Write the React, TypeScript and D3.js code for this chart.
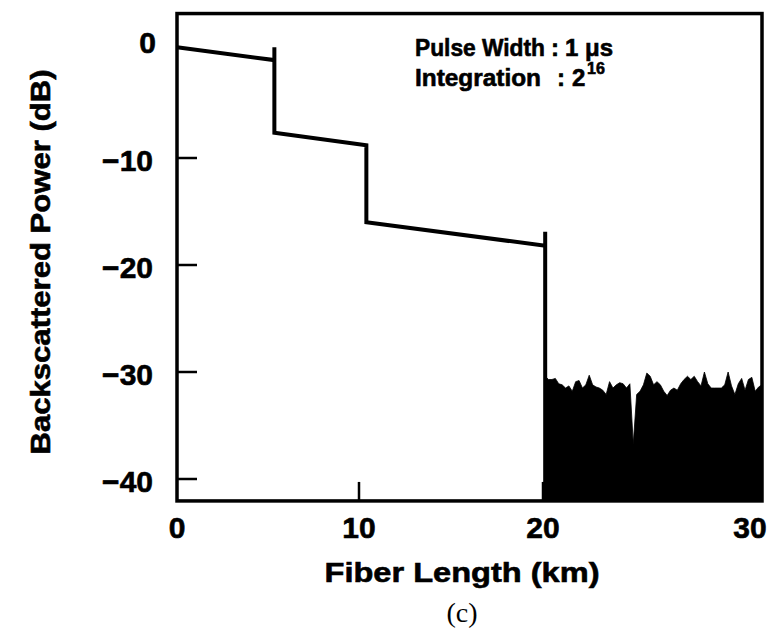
import React from 'react';
import * as d3 from 'd3';

// ---- data ----
const X_TICKS = [0, 10, 20, 30];
const X_TICK_LABELS = ['0', '10', '20', '30'];
const Y_TICKS = [0, -10, -20, -30, -40];
const Y_TICK_LABELS = ['0', '\u221210', '\u221220', '\u221230', '\u221240'];

// OTDR trace (km, dB): slope, splice step with spike, slope, step, slope, fiber end
const TRACE_KM = [0, 5.35, 5.35, 5.35, 10.4, 10.4, 20.1, 20.1, 20.1];
const TRACE_DB = [0.35, -0.85, 0.35, -7.65, -8.8, -16.0, -18.2, -16.9, -42];

// noise floor after fiber end, top edge (dB), evenly sampled from 20.1 km to 30 km
const NOISE_START_KM = 20.1;
const NOISE_END_KM = 30;
const NOISE_DB = [
  -30.4, -30.7, -30.7, -30.6, -31.1, -31.2, -31.5, -31.3, -31.8, -30.9,
  -30.8, -31.5, -31.2, -30.3, -31.2, -31.4, -31.5, -31.7, -32.1, -30.9,
  -31.5, -31.2, -31.0, -31.1, -31.5, -31.1, -36.7, -32.1, -31.8, -31.2,
  -30.1, -30.4, -31.2, -30.9, -31.2, -31.8, -32.2, -31.7, -31.5, -31.7,
  -31.1, -30.7, -30.4, -30.7, -30.4, -30.9, -31.3, -30.0, -31.1, -31.5,
  -31.5, -31.5, -31.5, -31.2, -30.0, -31.3, -32.1, -31.1, -30.6, -31.7,
  -30.7, -30.5, -31.8, -31.4, -31.2,
];

const LEGEND_LINE1 = ['Pulse Width', ':', '1 \u03bcs'];
const LEGEND_LINE2 = ['Integration', ':', '2', '16'];
const X_TITLE = 'Fiber Length (km)';
const Y_TITLE = 'Backscattered Power (dB)';
const CAPTION = '(c)';

const W = 776;
const H = 635;
const Y_TOP = 3.5;
const Y_BOTTOM = -42.05;
const SANS = "'Liberation Sans', Arial, Helvetica, sans-serif";
const SERIF = "'Liberation Serif', 'Times New Roman', serif";

export default function App() {
  const x = d3.scaleLinear().domain([0, 10, 20, 30]).range([177, 359, 543, 762]);
  const y = d3.scaleLinear().domain([0, -40]).range([51, 479]);

  const tracePts: [number, number][] = TRACE_KM.map((k, i) => [x(k), y(TRACE_DB[i])]);
  const line = d3.line().curve(d3.curveLinear);
  const tracePath = line(tracePts) || '';

  const idx = d3.scaleLinear().domain([0, NOISE_DB.length - 1]).range([NOISE_START_KM, NOISE_END_KM]);
  const noisePts = NOISE_DB.map((v, i) => ({ k: idx(i), v }));
  const area = d3
    .area<{ k: number; v: number }>()
    .x((d) => x(d.k))
    .y0(y(Y_BOTTOM))
    .y1((d) => y(d.v))
    .curve(d3.curveLinear);
  const noisePath = area(noisePts) || '';

  const x0 = x(0), x1 = x(30), yT = y(Y_TOP), yB = y(Y_BOTTOM);
  const bold = { stroke: '#000', strokeWidth: 0.6 };

  return (
    <svg width={W} height={H} style={{ position: 'absolute', left: 0, top: 0, background: '#fff' }}
      fontFamily={SANS} fontWeight="bold">
      <rect x={0} y={0} width={W} height={H} fill="#fff" />
      {/* noise floor */}
      <path d={noisePath} fill="#000" stroke="#000" strokeWidth={0.8} />
      {/* trace */}
      <path d={tracePath} fill="none" stroke="#000" strokeWidth={4} strokeLinejoin="miter" />
      {/* frame */}
      <rect x={x0} y={yT} width={x1 - x0} height={yB - yT} fill="none" stroke="#000" strokeWidth={3.5} />
      {/* y ticks (inward) */}
      {Y_TICKS.filter((t) => t !== 0).map((t) => (
        <line key={'yt' + t} x1={x0} x2={x0 + 20} y1={y(t)} y2={y(t)} stroke="#000" strokeWidth={2.5} />
      ))}
      {/* x ticks (inward) */}
      {X_TICKS.filter((t) => t > 0 && t < 30).map((t) => (
        <line key={'xt' + t} x1={x(t)} x2={x(t)} y1={yB} y2={yB - 19} stroke="#000" strokeWidth={2.5} />
      ))}
      {/* y tick labels */}
      {Y_TICKS.map((t, i) => (
        <text key={'yl' + t} x={t === 0 ? 156 : 153} y={y(t)} dy={t === 0 ? 2 : 13} textAnchor="end" fontSize={30} {...bold}>
          {Y_TICK_LABELS[i]}
        </text>
      ))}
      {/* x tick labels */}
      {X_TICKS.map((t, i) => (
        <text key={'xl' + t} x={x(t)} dx={i === X_TICKS.length - 1 ? -12 : 0} y={yB + 37}
          textAnchor="middle" fontSize={30} {...bold}>
          {X_TICK_LABELS[i]}
        </text>
      ))}
      {/* axis titles */}
      <text x={462} y={582} textAnchor="middle" fontSize={28} textLength={275} lengthAdjust="spacingAndGlyphs" {...bold}>
        {X_TITLE}
      </text>
      <text transform={`translate(50, 262) rotate(-90)`} textAnchor="middle" fontSize={28}
        textLength={385} lengthAdjust="spacingAndGlyphs" {...bold}>
        {Y_TITLE}
      </text>
      <text x={462} y={622} textAnchor="middle" fontSize={28} fontWeight="normal" fontFamily={SERIF}>
        {CAPTION}
      </text>
      {/* annotation */}
      <g fontSize={24} {...bold}>
        <text x={415} y={56} textLength={130} lengthAdjust="spacingAndGlyphs">{LEGEND_LINE1[0]}</text>
        <text x={551} y={56}>{LEGEND_LINE1[1]}</text>
        <text x={565} y={56}>{LEGEND_LINE1[2]}</text>
        <text x={415} y={86} textLength={126} lengthAdjust="spacingAndGlyphs">{LEGEND_LINE2[0]}</text>
        <text x={557} y={86}>{LEGEND_LINE2[1]}</text>
        <text x={572} y={86}>{LEGEND_LINE2[2]}</text>
        <text x={587} y={74} fontSize={16}>{LEGEND_LINE2[3]}</text>
      </g>
    </svg>
  );
}
